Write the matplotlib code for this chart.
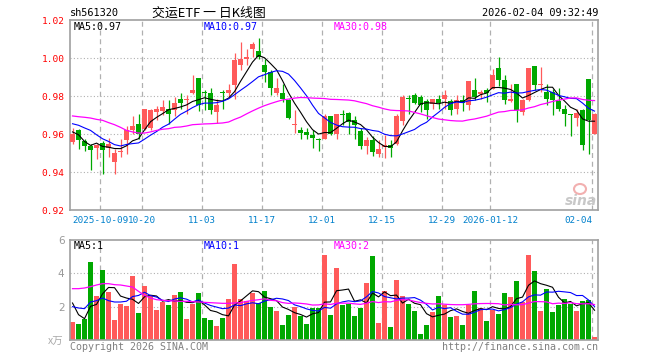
import numpy as np
import pandas as pd
import matplotlib
matplotlib.use("Agg")
import matplotlib.pyplot as plt
from matplotlib.patches import Ellipse

plt.rcParams['font.family'] = ['DejaVu Sans Mono', 'Noto Sans CJK SC']

# daily candles, 2025-09-24 .. 2026-02-04 (88 sessions)
opens = [0.9556, 0.9623, 0.9565, 0.9535, 0.9526, 0.9553, 0.9526, 0.9451, 0.9504, 0.9567,
         0.9623, 0.9654, 0.9628, 0.9633, 0.9716, 0.9723, 0.9733, 0.9725, 0.9786, 0.9777,
         0.9818, 0.9896, 0.9821, 0.9818, 0.9716, 0.9821, 0.9818, 0.9856, 0.9965, 0.9996,
         1.0049, 1.0039, 0.9965, 0.9926, 0.9818, 0.9818, 0.9777, 0.9646, 0.9623, 0.9611,
         0.9593, 0.9575, 0.9575, 0.9695, 0.9602, 0.9705, 0.9712, 0.9675, 0.9614, 0.9535,
         0.9567, 0.9493, 0.9532, 0.9544, 0.9549, 0.9667, 0.9789, 0.9807, 0.9795, 0.9772,
         0.9760, 0.9786, 0.9786, 0.9772, 0.9733, 0.9777, 0.9754, 0.9833, 0.9809, 0.9833,
         0.9839, 0.9949, 0.9886, 0.9775, 0.9865, 0.9716, 0.9777, 0.9958, 0.9856, 0.9821,
         0.9821, 0.9772, 0.9733, 0.9705, 0.9686, 0.9725, 0.9888, 0.9602]
highs = [0.9633, 0.9628, 0.9575, 0.9549, 0.9549, 0.9561, 0.9581, 0.9523, 0.9575, 0.9642,
         0.9695, 0.9707, 0.9733, 0.9733, 0.9747, 0.9777, 0.9777, 0.9795, 0.9818, 0.9807,
         0.9909, 0.9896, 0.9830, 0.9842, 0.9786, 0.9830, 0.9865, 1.0028, 1.0084, 1.0049,
         1.0084, 1.0107, 0.9996, 0.9935, 0.9895, 0.9865, 0.9786, 0.9725, 0.9635, 0.9632,
         0.9619, 0.9577, 0.9707, 0.9695, 0.9707, 0.9725, 0.9716, 0.9695, 0.9632, 0.9584,
         0.9589, 0.9567, 0.9593, 0.9567, 0.9707, 0.9804, 0.9807, 0.9818, 0.9804, 0.9786,
         0.9786, 0.9807, 0.9833, 0.9786, 0.9807, 0.9804, 0.9877, 0.9896, 0.9830, 0.9842,
         0.9940, 1.0005, 0.9909, 0.9865, 0.9865, 0.9786, 0.9947, 0.9958, 0.9953, 0.9865,
         0.9839, 0.9842, 0.9751, 0.9705, 0.9733, 0.9733, 0.9888, 0.9710]
lows = [0.9549, 0.9519, 0.9509, 0.9409, 0.9470, 0.9388, 0.9479, 0.9388, 0.9479, 0.9496,
        0.9602, 0.9575, 0.9620, 0.9620, 0.9672, 0.9698, 0.9654, 0.9695, 0.9733, 0.9707,
        0.9812, 0.9719, 0.9725, 0.9707, 0.9660, 0.9733, 0.9795, 0.9786, 0.9935, 0.9965,
        1.0005, 0.9996, 0.9874, 0.9804, 0.9804, 0.9768, 0.9680, 0.9607, 0.9575, 0.9575,
        0.9528, 0.9509, 0.9572, 0.9596, 0.9575, 0.9646, 0.9602, 0.9575, 0.9519, 0.9496,
        0.9482, 0.9479, 0.9474, 0.9479, 0.9540, 0.9649, 0.9707, 0.9760, 0.9716, 0.9681,
        0.9730, 0.9730, 0.9730, 0.9702, 0.9707, 0.9719, 0.9725, 0.9777, 0.9786, 0.9768,
        0.9835, 0.9853, 0.9760, 0.9768, 0.9663, 0.9702, 0.9772, 0.9830, 0.9821, 0.9751,
        0.9702, 0.9719, 0.9642, 0.9589, 0.9642, 0.9516, 0.9495, 0.9600]
closes = [0.9600, 0.9567, 0.9535, 0.9514, 0.9544, 0.9514, 0.9546, 0.9500, 0.9511, 0.9619,
          0.9644, 0.9602, 0.9733, 0.9725, 0.9733, 0.9742, 0.9707, 0.9765, 0.9765, 0.9786,
          0.9833, 0.9754, 0.9816, 0.9725, 0.9754, 0.9818, 0.9830, 0.9988, 0.9996, 1.0007,
          1.0072, 1.0005, 0.9926, 0.9844, 0.9844, 0.9786, 0.9684, 0.9654, 0.9605, 0.9593,
          0.9579, 0.9567, 0.9695, 0.9602, 0.9707, 0.9698, 0.9663, 0.9646, 0.9535, 0.9567,
          0.9505, 0.9523, 0.9544, 0.9526, 0.9695, 0.9795, 0.9784, 0.9765, 0.9754, 0.9725,
          0.9786, 0.9765, 0.9807, 0.9725, 0.9777, 0.9765, 0.9877, 0.9795, 0.9821, 0.9818,
          0.9909, 0.9882, 0.9777, 0.9786, 0.9725, 0.9777, 0.9947, 0.9856, 0.9865, 0.9786,
          0.9777, 0.9733, 0.9707, 0.9702, 0.9712, 0.9544, 0.9672, 0.9707]
# volume in units of 万
volumes = [1.06, 0.98, 1.28, 4.70, 2.66, 4.22, 2.90, 1.22, 2.18, 2.06,
           3.86, 1.64, 3.22, 2.66, 1.82, 2.30, 2.12, 2.72, 2.90, 1.28,
           2.18, 2.84, 1.34, 1.22, 0.86, 1.34, 2.48, 4.58, 2.48, 2.36,
           2.84, 2.24, 2.96, 2.00, 1.76, 0.92, 1.52, 2.00, 1.46, 0.98,
           1.90, 1.90, 5.12, 1.52, 4.34, 2.12, 2.18, 1.46, 1.94, 3.44,
           5.06, 1.04, 2.96, 0.80, 3.62, 2.66, 2.18, 1.76, 0.38, 0.92,
           1.70, 2.66, 2.12, 1.40, 1.46, 0.92, 2.12, 2.96, 1.94, 1.16,
           1.82, 1.58, 2.84, 2.60, 3.56, 2.30, 5.12, 4.16, 1.76, 3.08,
           1.70, 2.12, 2.48, 2.18, 1.76, 2.36, 2.42, 0.20]

# moving averages at the left edge depend on sessions outside the window,
# so those first points are read off the chart
ma5_head = [0.9611, 0.9596, 0.9561, 0.9540]
ma10_head = [0.9654, 0.9646, 0.9632, 0.9619, 0.9596, 0.9575, 0.9561, 0.9544, 0.9537]
ma30_head = [0.9695, 0.9691, 0.9688, 0.9684, 0.9677, 0.9672, 0.9660, 0.9649, 0.9635, 0.9619,
             0.9611, 0.9605, 0.9605, 0.9611, 0.9619, 0.9625, 0.9628, 0.9635, 0.9637, 0.9642,
             0.9649, 0.9651, 0.9653, 0.9654, 0.9656, 0.9658, 0.9663, 0.9677, 0.9689]
vma5_head = [2.22, 1.52, 1.28, 2.02]
vma10_head = [2.00, 1.92, 1.88, 2.28, 2.36, 2.52, 2.36, 2.28, 2.28]
vma30_head = [3.08, 3.08, 3.12, 3.20, 3.30, 3.38, 3.38, 3.32, 3.30, 3.24,
              3.18, 2.92, 2.68, 2.52, 2.42, 2.38, 2.36, 2.34, 2.32, 2.32,
              2.30, 2.28, 2.26, 2.24, 2.22, 2.20, 2.20, 2.22, 2.24]

date_ticks = [5, 12, 22, 32, 42, 52, 62, 70, 87]
date_labels = ['2025-10-09', '10-20', '11-03', '11-17', '12-01', '12-15',
               '12-29', '2026-01-12', '02-04']
price_ticks = [0.92, 0.94, 0.96, 0.98, 1.00, 1.02]
vol_ticks = [2, 4, 6]

UP = '#ff5a5a'
DOWN = '#00a800'
GRID = '#b0b0b0'
FRAME = '#a0a0a0'


def moving_avg(values, n, head):
    ma = pd.Series(values).rolling(n).mean().to_numpy()
    ma[:len(head)] = head
    return ma


def px(x, y):
    # figure pixel coords (top-left origin) -> figure fraction
    return x / 660, 1 - y / 360


o = np.array(opens)
h = np.array(highs)
l = np.array(lows)
c = np.array(closes)
v = np.array(volumes)
x = np.arange(len(c))
up = c >= o
colors = np.where(up, UP, DOWN)

fig = plt.figure(figsize=(6.6, 3.6), dpi=100)
ax = fig.add_axes([70 / 660, 150 / 360, 528 / 660, 190 / 360])
axv = fig.add_axes([70 / 660, 20 / 360, 528 / 660, 100 / 360])

xlim = (-0.42, len(c) - 0.42)
grid_x = np.array(date_ticks) - 0.37

# --- price panel
for y in price_ticks[1:-1]:
    ax.axhline(y, color=GRID, lw=0.8, ls=(0, (1, 2)), zorder=0)
for gx in grid_x:
    ax.axvline(gx, color=GRID, lw=0.9, ls=(0, (4, 3)), zorder=0)

ax.vlines(x, l, h, colors=colors, lw=0.9, zorder=2)
body_bottom = np.minimum(o, c)
body_height = np.maximum(np.abs(c - o), 0.0005)
ax.bar(x, body_height, bottom=body_bottom, width=0.83, color=colors, linewidth=0, zorder=3)

ax.plot(x, moving_avg(c, 5, ma5_head), color='black', lw=0.8, zorder=4)
ax.plot(x, moving_avg(c, 10, ma10_head), color='#0000ff', lw=0.8, zorder=4)
ax.plot(x, moving_avg(c, 30, ma30_head), color='#ff00ff', lw=0.9, zorder=4)

ax.set_xlim(*xlim)
ax.set_ylim(price_ticks[0], price_ticks[-1])
ax.set_yticks(price_ticks)
ax.set_yticklabels([f'{t:.2f}' for t in price_ticks], color='#ff0000', fontsize=6.8)
ax.set_xticks(grid_x)
ax.set_xticklabels(date_labels, color='#0080cc', fontsize=6.7)
ax.tick_params(length=0, pad=4)
ax.get_xticklabels()[-1].set_ha('right')

# --- volume panel
for y in vol_ticks[:-1]:
    axv.axhline(y, color=GRID, lw=0.8, ls=(0, (1, 2)), zorder=0)
for gx in grid_x:
    axv.axvline(gx, color=GRID, lw=0.9, ls=(0, (4, 3)), zorder=0)

axv.bar(x, v, width=0.83, color=colors, linewidth=0, zorder=2)
axv.plot(x, moving_avg(v, 5, vma5_head), color='black', lw=0.8, zorder=3)
axv.plot(x, moving_avg(v, 10, vma10_head), color='#0000ff', lw=0.8, zorder=3)
axv.plot(x, moving_avg(v, 30, vma30_head), color='#ff00ff', lw=0.9, zorder=3)

axv.set_xlim(*xlim)
axv.set_ylim(0, 6)
axv.set_xticks([])
axv.set_yticks(vol_ticks)
axv.set_yticklabels([str(t) for t in vol_ticks], color='#999999', fontsize=7.5,
                    family='DejaVu Sans')
axv.tick_params(length=0, pad=4)

for a in (ax, axv):
    for s in a.spines.values():
        s.set_color(FRAME)
        s.set_linewidth(1.2)

# --- header and labels
fig.text(*px(70, 13), 'sh561320', fontsize=7.4, va='center', ha='left')
fig.text(*px(209, 13), '交运ETF 一 日K线图', fontsize=9.3, va='center', ha='center',
         family=['Noto Sans CJK SC', 'DejaVu Sans'])
fig.text(*px(598, 13), '2026-02-04 09:32:49', fontsize=7.4, va='center', ha='right')

fig.text(*px(74, 27), 'MA5:0.97', fontsize=7.2, va='center', color='black')
fig.text(*px(204, 27), 'MA10:0.97', fontsize=7.2, va='center', color='#0000ff')
fig.text(*px(334, 27), 'MA30:0.98', fontsize=7.2, va='center', color='#ff00ff')
fig.text(*px(74, 246), 'MA5:1', fontsize=7.2, va='center', color='black')
fig.text(*px(204, 246), 'MA10:1', fontsize=7.2, va='center', color='#0000ff')
fig.text(*px(334, 246), 'MA30:2', fontsize=7.2, va='center', color='#ff00ff')

fig.text(*px(63, 342), 'x万', fontsize=7.5, va='center', ha='right', color='#aaaaaa',
         family=['Noto Sans CJK SC', 'DejaVu Sans'])
fig.text(*px(70, 347), 'Copyright 2026 SINA.COM', fontsize=7.2, va='center', color='#808080')
fig.text(*px(598, 347), 'http://finance.sina.com.cn', fontsize=7.2, va='center',
         ha='right', color='#808080')

# sina watermark
fig.patches.append(Ellipse(px(580, 189), 12 / 660, 10 / 360, transform=fig.transFigure,
                           facecolor='none', edgecolor='#f2b0b0', lw=1.5))
fig.text(*px(581, 201), 'sina', fontsize=10, va='center', ha='center', color='#c8c8c8',
         fontweight='bold', style='italic', family='DejaVu Sans')

fig.savefig('out.png', dpi=100)
